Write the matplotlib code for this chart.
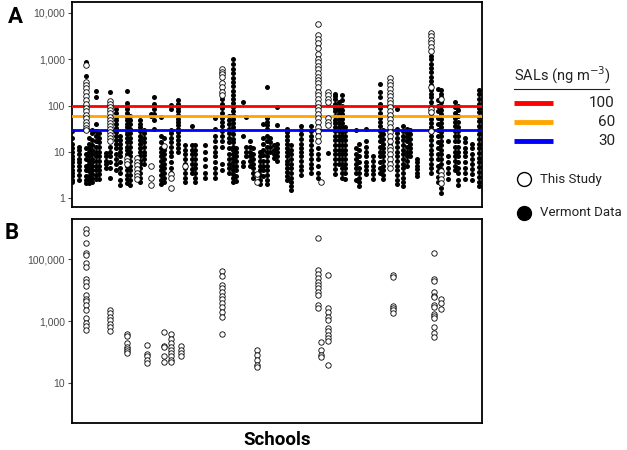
import matplotlib
matplotlib.use("Agg")
import matplotlib.pyplot as plt
from matplotlib.ticker import FuncFormatter, FixedLocator

# Vermont school air data (panel A), values in ng/m3, keyed by school number
vermont = {
    0: [28, 20, 15, 12, 10, 8, 7, 6, 5, 4, 3.5, 3, 2.5, 2.2],
    2: [13, 11, 9, 7, 6, 5, 4, 3.2, 2.5],
    4: [870, 430, 250, 180, 140, 100, 80, 60, 45, 35, 12, 9, 7, 5, 4, 3, 2.5, 2.1],
    5: [20, 15, 12, 10, 8, 6.5, 5.5, 4.5, 3.8, 3, 2.5, 2.1],
    6: [30, 25, 18, 14, 11, 9, 7, 6, 5, 4, 3.3, 2.8, 2.3],
    7: [210, 155, 40, 28, 22, 17, 13, 10, 8, 6.5, 5, 4, 3.2, 2.6],
    8: [25, 20, 16, 13, 10, 8, 6.5, 5, 4, 3.3, 2.6],
    10: [9.5, 8, 6.5, 5.5, 4.6],
    11: [200, 13, 10, 8, 6, 4.5, 2.8],
    13: [85, 70, 58, 48, 40, 33, 27, 22, 18, 15, 12, 9, 7, 5.5, 4],
    14: [22, 18, 15, 12, 10, 8, 6, 4.5, 3.5, 2.5, 1.9],
    16: [210, 115, 100, 85, 70, 58, 48, 40, 34, 28, 24, 20, 16, 13, 11, 9, 7.5, 6, 5, 4, 3.2, 2.6, 2.1],
    17: [60, 50, 40, 32, 26, 20, 16, 13, 10, 8, 6.5, 5, 4, 3.2, 2.5, 1.9],
    20: [48, 40, 35, 28, 22, 18, 15, 12, 10, 8, 6.5, 5.5, 4.5, 3.5, 2.8, 2.2],
    21: [30, 25, 20, 16, 13, 10, 8.5, 7, 5.5],
    23: [65, 60],
    24: [155, 110, 86, 65, 50, 31],
    26: [58, 22, 16, 12, 10, 8, 6.5, 5, 4, 3.2, 2.5, 2],
    27: [20, 13, 11, 9, 7, 5.5, 4.5, 3.5, 2.8, 2.2],
    29: [105, 86, 30, 25, 20, 16, 13, 10, 8, 6, 4.5, 3.5],
    31: [130, 110, 90, 75, 62, 52, 45, 38, 32, 27, 22, 18, 15, 12, 10],
    33: [14, 11, 9, 7, 5.5, 4.5, 3.5, 2.8, 2.2],
    35: [36, 14, 11, 9, 7, 5.5, 4.3, 3.5],
    36: [14, 11, 9, 7, 5.5, 4.5, 3.5, 2.8, 2.2],
    39: [14, 10, 7, 5, 3.5, 2.7],
    42: [53, 31, 22, 17, 13, 10, 8, 6, 4.5, 3.5, 2.7],
    44: [140, 110, 90, 70, 55, 45, 36, 28, 22, 17, 13, 5.5, 4],
    46: [60, 50, 40, 32, 26, 20, 16, 12, 9, 7, 5.5, 4.5, 3.5],
    47: [1000, 800, 620, 500, 400, 320, 260, 210, 170, 140, 115, 95, 78, 64, 52, 43,
         35, 29, 24, 19, 16, 13, 11, 9, 7.5, 6, 5, 4, 3.3, 2.7, 2.2],
    48: [12, 10, 8, 6.5, 5, 4, 3, 2.4],
    50: [122, 22, 6, 5],
    51: [58, 12.5, 10, 8],
    52: [17, 13, 10, 8, 6.5, 5],
    53: [12, 9, 7, 5.5, 4.5, 3.5, 2.8],
    55: [10, 8, 6.5, 5, 4, 3.2, 2.5, 2],
    56: [40, 20, 15, 11, 8.5, 6.5, 5, 4, 3],
    57: [250, 53, 45, 38, 32, 22, 17, 13, 10, 8, 6.5, 5, 4, 3.2, 2.5, 2],
    58: [20, 16, 13, 10],
    59: [14, 11, 9, 7.5],
    60: [95, 39, 15, 12, 10, 8, 6.5],
    63: [32, 27, 22, 18, 15, 12, 10, 8, 6.5, 5.5, 4.5, 3.7, 3, 2.5],
    64: [14, 11, 9, 7, 5.5, 4.5, 3.5, 2.8, 2.2, 1.8, 1.5],
    67: [36, 30, 24, 19, 15, 12, 10, 8, 6.5, 5, 4, 3.2],
    70: [36, 28, 22, 18, 14, 11, 9, 7, 5.5, 4.5, 3.5],
    72: [1000, 600, 300, 180, 60, 35, 25, 17, 12, 9, 7, 5, 3.5, 2.7],
    75: [9.5],
    77: [180, 160, 140, 110, 90, 75, 60, 50, 42, 35, 28, 22, 18, 14, 11, 9, 7, 5.5, 4.3, 3.4],
    78: [120, 100, 80, 65, 52, 42, 35, 28, 22, 18, 14, 11, 9, 7, 5.5],
    79: [170, 130, 100, 80, 65, 52, 42, 34, 27, 22, 18, 14, 11, 9, 7, 5.5, 4.5, 3.5, 2.8],
    80: [35, 28, 22, 18, 14, 11, 9, 7, 5.5, 4.5, 3.5, 2.6],
    83: [30, 12, 9, 7, 5.5, 4.5, 3.5, 2.5],
    84: [15, 11, 8, 6, 4.5, 3.5, 2.8, 2.2, 1.8],
    86: [32, 17, 13, 10, 8, 6, 5, 4, 3.3],
    88: [8, 6.5, 5, 4, 3.3, 2.6],
    90: [290, 200, 150, 110, 90, 70, 55, 45, 36, 28, 22, 17, 13, 10, 8, 6, 4.5, 3.5],
    91: [30, 24, 19, 15, 12, 10, 8, 6.5, 5, 4, 3.2, 2.6],
    93: [370, 74, 60, 46, 30, 20, 14, 10],
    95: [86, 32, 25, 20, 16, 13, 10, 8, 6.5, 5, 4, 3.2, 2.5, 2],
    97: [36, 28, 22, 18, 14, 11, 9, 7, 5.5, 4.5, 3.5, 2.8, 2.2, 1.8],
    98: [32, 26, 21, 17, 13, 10, 8, 6.5, 5],
    99: [30, 24, 19, 15, 12, 10, 8],
    101: [7, 6, 5, 4.2, 3.5, 3],
    105: [1200, 1000, 800, 650, 520, 420, 340, 280, 220, 180, 150, 120, 100, 80, 65, 52,
          42, 34, 27, 22, 18, 14, 11, 9, 7, 5.5, 4.5, 3.5],
    107: [230, 130, 100, 75, 55, 40, 30, 22, 16, 12, 9, 7, 5, 3.8, 2.9, 2.2],
    108: [220, 180, 150, 120, 100, 80, 65, 52, 42, 34, 27, 22, 17, 14, 11, 9, 7, 5.5,
          4.3, 3.4, 2.7, 2.1, 1.7, 1.3],
    110: [17, 8, 6, 4.5, 3.5, 2.6],
    112: [122, 95, 70, 55, 45, 36, 28, 22, 17, 13, 10, 8, 6.5, 5, 4],
    113: [100, 80, 60, 45, 35, 28, 22, 17, 13, 10, 8, 6, 4.5, 3.5, 2.5, 1.9],
    115: [20, 16, 12, 10, 8, 6, 4.5, 3.5, 2.6],
    117: [15, 12, 9, 7, 5.5, 4.2, 3.3, 2.5],
    119: [220, 180, 140, 110, 90, 72, 58, 46, 37, 30, 24, 19, 15, 12, 9.5, 7.5, 6, 4.7,
          3.7, 2.9, 2.3, 1.8],
}

# this study, air (panel A)
study_air = {
    4: [740, 330, 280, 240, 200, 160, 130, 110, 90, 75, 62, 53, 45, 38, 33, 29],
    11: [125, 110, 95, 80, 68, 58, 50, 43, 37, 31, 27, 23, 19.5, 17],
    16: [7.5, 6.5, 5.5],
    19: [7.5, 6.2, 5.2, 4.3, 3.5, 3, 2.6],
    23: [5, 2.8, 1.9],
    27: [13.4],
    29: [3.4, 2.7, 1.7],
    33: [5],
    44: [610, 540, 470, 410, 300, 250, 200, 170],
    54: [3.4, 2.2],
    72: [5800, 3300, 2700, 2200, 1700, 1300, 1000, 850, 720, 600, 500, 420, 350, 300,
         250, 200, 170, 140, 115, 95, 80, 65, 55, 45, 35, 28, 22, 17],
    73: [2.2],
    75: [200, 170, 140, 120, 53, 45, 38],
    93: [390, 330, 280, 230, 190, 160, 135, 115, 95, 78, 64, 52, 42, 34, 27, 22, 17,
         13, 11, 9, 7, 5.5, 4.5],
    105: [3700, 3100, 2600, 2200, 1800, 1500, 250, 86, 74, 28],
    108: [140, 3.9, 3.2, 2.6, 2.1],
}

# this study, panel B
study_b = {
    4: [930000, 690000, 330000, 163000, 138000, 74000, 58000, 23000, 19000, 14000,
        7100, 5200, 4300, 3400, 2300, 1250, 900, 670, 500],
    11: [2300, 1800, 1350, 1100, 820, 640, 470],
    16: [390, 320, 200, 150, 130, 110, 93],
    22: [170, 88, 72, 56, 45],
    27: [430, 160, 150, 72, 47],
    29: [380, 260, 200, 150, 120, 93, 72, 56, 46],
    32: [160, 120, 93, 72],
    44: [43000, 29000, 15000, 11600, 9000, 6700, 5200, 3800, 2800, 2000, 1400, 390],
    54: [120, 83, 56, 39, 32],
    72: [500000, 45000, 34000, 24500, 19000, 14500, 11600, 9000, 7000, 3400, 2600],
    73: [210, 120, 83, 70],
    75: [30000, 2600, 1900, 1400, 1100, 600, 470, 360, 280, 220, 39],
    94: [31000, 27500, 3100, 2600, 2200, 1800],
    106: [156000, 23000, 20000, 8600, 6700, 5800, 3200, 2800, 1700, 1500, 1250, 650,
          420, 300],
    108: [5300, 3800, 2500],
}

sal_values = [100, 60, 30]
sal_colors = ['#ff0000', '#ffa500', '#0000ff']

ticks_a = [1, 10, 100, 1000, 10000]
ticks_b = [10, 1000, 100000]


def flatten(d):
    xs, ys = [], []
    for k, vals in d.items():
        xs += [k] * len(vals)
        ys += vals
    return xs, ys


fig = plt.figure(figsize=(6.27, 4.5), dpi=100)
ax_a = fig.add_axes([0.1148, 0.541, 0.654, 0.455])
ax_b = fig.add_axes([0.1148, 0.0607, 0.654, 0.4527])

fmt = FuncFormatter(lambda v, p: f'{v:,.0f}')

x, y = flatten(vermont)
ax_a.scatter(x, y, s=13, color='black', linewidths=0, zorder=2)
for v, c in zip(sal_values, sal_colors):
    ax_a.axhline(v, color=c, lw=2, zorder=3)
x, y = flatten(study_air)
ax_a.scatter(x, y, s=16, facecolor='white', edgecolor='black', linewidths=0.6, zorder=4)
ax_a.set_ylim(0.665, 17260)

x, y = flatten(study_b)
ax_b.scatter(x, y, s=15, facecolor='white', edgecolor='black', linewidths=0.6, zorder=4)
ax_b.set_ylim(0.52, 2.0e6)

for ax, tk in [(ax_a, ticks_a), (ax_b, ticks_b)]:
    ax.set_yscale('log')
    ax.yaxis.set_major_locator(FixedLocator(tk))
    ax.yaxis.set_minor_locator(FixedLocator([]))
    ax.yaxis.set_major_formatter(fmt)
    ax.set_xlim(0, 120)
    ax.set_xticks([])
    ax.tick_params(axis='y', length=3, width=0.8, color='#4d4d4d',
                   labelsize=7.5, labelcolor='#4d4d4d', pad=2)
    for lab in ax.get_yticklabels():
        lab.set_family('Liberation Sans')
    for s in ax.spines.values():
        s.set_linewidth(1.3)
        s.set_color('black')

fig.text(0.013, 0.962, 'A', fontsize=16, fontweight='bold', family='Roboto', va='center')
fig.text(0.008, 0.482, 'B', fontsize=16, fontweight='bold', family='Roboto', va='center')
fig.text(0.442, 0.022, 'Schools', fontsize=13.5, fontweight='bold', family='Roboto',
         ha='center', va='center')

# legend drawn by hand on the right
leg = fig.add_axes([0.77, 0.0, 0.23, 1.0])
leg.set_xlim(0, 144)
leg.set_ylim(450, 0)
leg.axis('off')
leg.text(31, 86, r'SALs (ng m$^{-3}$)', fontsize=10.5, family='Roboto', color='#222222',
         va='bottom', ha='left')
leg.plot([31, 126], [89, 89], color='#222222', lw=0.8)
for i, (v, c) in enumerate(zip(sal_values, sal_colors)):
    yy = 103 + i * 19
    leg.plot([31, 70], [yy, yy], color=c, lw=3.5, solid_capstyle='butt')
    leg.text(132, yy, str(v), fontsize=11, family='Roboto', color='#222222',
             ha='right', va='center')
leg.plot([41], [179], 'o', ms=10, mfc='white', mec='black', mew=1.0)
leg.text(57, 179, 'This Study', fontsize=9.5, family='Roboto', color='#222222', va='center')
leg.plot([41], [213], 'o', ms=10, mfc='black', mec='black')
leg.text(57, 213, 'Vermont Data', fontsize=9.5, family='Roboto', color='#222222', va='center')

fig.savefig('out.png', dpi=100)
